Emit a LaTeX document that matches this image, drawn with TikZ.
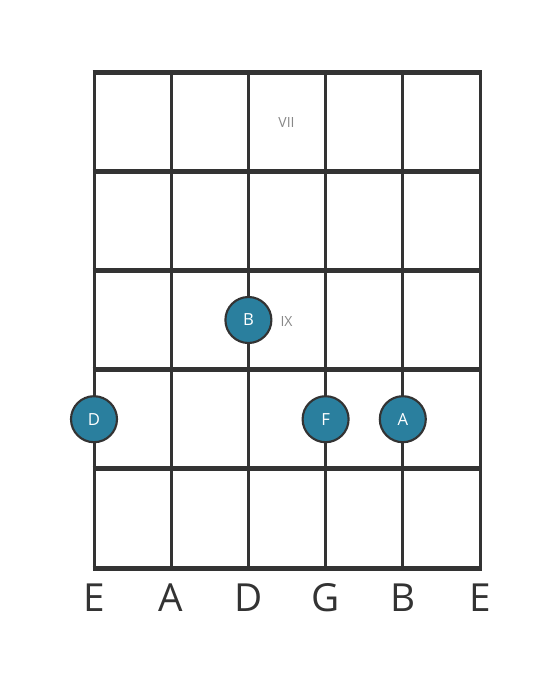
\documentclass[tikz,border=0pt]{standalone}
\usepackage{fontspec}
\setmainfont{Open Sans}
\definecolor{fretgray}{HTML}{333333}
\definecolor{noteteal}{HTML}{2A7F9E}
\definecolor{labelgray}{HTML}{888888}

\begin{document}
\begin{tikzpicture}[x=0.75pt,y=-0.75pt,
    note/.style={circle,draw=fretgray,line width=1.6pt,fill=noteteal,
        minimum size=34.5pt,inner sep=0pt,text=white,font=\fontsize{12.5}{13}\selectfont},
    strname/.style={text=fretgray,font=\fontsize{29}{30}\selectfont},
    fretnum/.style={text=labelgray,font=\fontsize{10.5}{11}\selectfont}]
\useasboundingbox (0,0) rectangle (560,682);
    % Strings
    \foreach \x in {94,171.2,248.4,325.6,402.8,480}
        \draw[fretgray,line width=2.25pt] (\x,72) -- (\x,568);
    % Frets
    \foreach \y in {72,171.2,270.4,369.6,468.8,568}
        \draw[fretgray,line width=3.75pt] (92.5,\y) -- (481.5,\y);
    % Position marks
    \node[fretnum] (vii) at (286.5,123) {VII};
    \node[fretnum] (ix) at (286.5,321) {IX};
    % Notes
    \node[note] (nD) at (94,419.2) {D};
    \node[note] (nB) at (248.4,320) {B};
    \node[note] (nF) at (325.6,419.2) {F};
    \node[note] (nA) at (402.8,419.2) {A};
    % String names
    \foreach \x/\s [count=\i] in {94/E,171.2/A,248.4/D,325.6/G,402.8/B,480/E}
        \node[strname] (s\i) at (\x,598) {\s};
\end{tikzpicture}
\end{document}
